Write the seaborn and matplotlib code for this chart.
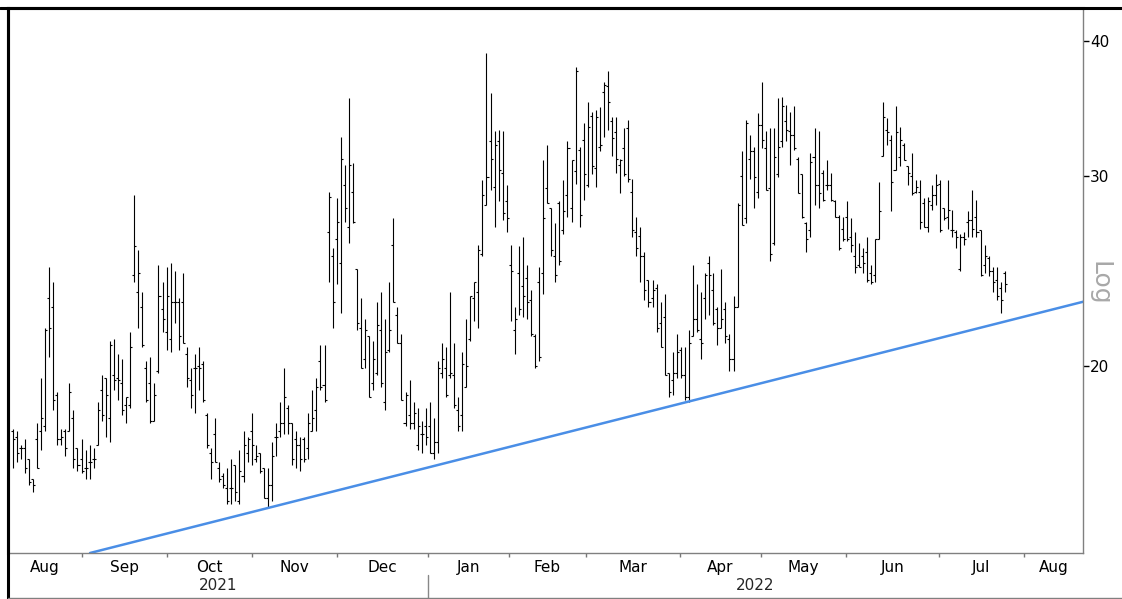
import numpy as np
import pandas as pd
import matplotlib

matplotlib.use("Agg")
import matplotlib.pyplot as plt
import matplotlib.transforms as mtransforms
from matplotlib.lines import Line2D
import seaborn as sns

# --- daily OHLC, one entry per trading day ---
highs = [
    17.5, 17.4, 16.9, 17.1, 16.4, 15.7, 17.7, 19.5, 21.7, 24.7,
    23.9, 18.9, 17.5, 17.5, 19.3, 18.2, 16.8, 17.1, 16.7, 16.9,
    16.8, 18.5, 19.6, 19.5, 21.1, 21.2, 20.5, 20.3, 18.7, 21.5,
    28.8, 25.6, 23.4, 20.2, 20.4, 19.3, 24.8, 23.9, 24.7, 24.9,
    24.5, 23.1, 24.4, 20.8, 19.9, 20.5, 20.8, 20.2, 18.1, 16.8,
    17.9, 16.3, 15.9, 16.1, 16.4, 16.2, 16.7, 17.4, 17.2, 18.1,
    16.9, 16.6, 16.1, 16.1, 17.0, 17.7, 18.5, 19.9, 18.4, 17.7,
    17.4, 17.2, 17.2, 18.1, 19.0, 19.5, 20.9, 20.9, 29.0, 25.7,
    28.6, 32.6, 30.7, 35.4, 30.8, 24.6, 23.1, 22.1, 21.3, 21.1,
    22.9, 23.4, 22.1, 23.9, 27.4, 22.7, 21.4, 18.9, 19.4, 18.5,
    18.3, 17.8, 18.3, 18.5, 17.9, 20.2, 21.0, 20.8, 23.4, 21.0,
    18.7, 20.6, 22.1, 23.2, 23.9, 25.9, 29.7, 39.0, 35.8, 33.0,
    33.1, 33.0, 29.4, 25.9, 22.7, 25.8, 26.3, 24.8, 23.5, 21.4,
    24.7, 31.0, 32.0, 28.0, 27.1, 28.4, 29.7, 32.3, 31.0, 37.8,
    31.9, 33.6, 35.1, 34.4, 34.5, 34.7, 36.6, 37.5, 34.0, 34.0,
    31.1, 33.2, 33.8, 29.8, 27.5, 26.9, 25.5, 24.0, 24.0, 23.8,
    22.9, 23.3, 19.7, 20.6, 21.4, 20.8, 20.8, 21.6, 24.8, 23.8,
    23.4, 24.4, 25.3, 24.4, 22.7, 24.6, 22.9, 21.4, 23.2, 28.3,
    31.6, 33.8, 32.7, 31.9, 34.3, 36.6, 33.0, 33.2, 33.2, 35.4,
    35.5, 34.9, 34.4, 34.8, 31.2, 30.1, 27.2, 31.5, 33.2, 33.0,
    30.4, 31.0, 30.2, 28.5, 27.6, 27.5, 28.4, 27.4, 26.6, 26.0,
    25.7, 26.3, 24.8, 26.2, 29.6, 35.1, 33.9, 32.7, 34.8, 33.3,
    32.2, 30.6, 31.5, 29.7, 29.7, 28.6, 28.7, 29.4, 30.1, 29.7,
    28.0, 29.7, 27.9, 26.7, 26.5, 26.6, 27.8, 29.1, 28.5, 26.7,
    25.9, 25.3, 24.7, 24.7, 23.9, 24.5,
]
lows = [
    16.1, 16.3, 16.4, 15.9, 15.5, 15.3, 16.1, 16.7, 17.4, 20.4,
    18.2, 16.9, 16.9, 16.5, 17.4, 16.1, 16.0, 15.9, 15.7, 15.7,
    16.1, 16.9, 17.8, 17.2, 17.0, 19.0, 18.6, 18.0, 17.7, 18.3,
    23.9, 21.7, 20.8, 18.5, 17.7, 17.8, 19.7, 21.5, 20.7, 20.6,
    21.9, 20.7, 21.0, 19.1, 18.3, 18.1, 19.0, 18.5, 16.8, 15.7,
    16.3, 15.6, 15.4, 14.9, 14.9, 15.0, 14.9, 15.6, 16.3, 16.2,
    16.3, 15.9, 15.1, 14.8, 15.0, 16.5, 17.2, 17.3, 17.3, 16.2,
    16.1, 16.0, 16.3, 16.4, 17.4, 17.4, 19.0, 18.5, 23.9, 21.7,
    23.8, 22.4, 27.2, 26.0, 27.1, 21.6, 19.9, 19.9, 18.7, 19.0,
    19.6, 19.1, 18.2, 20.6, 22.9, 21.0, 18.6, 17.6, 17.5, 17.5,
    16.7, 16.6, 16.9, 16.6, 16.4, 16.6, 19.5, 18.7, 19.5, 18.3,
    17.4, 17.4, 19.1, 21.1, 22.0, 21.7, 25.3, 28.2, 29.1, 26.9,
    28.4, 27.3, 26.6, 22.0, 20.5, 22.3, 22.2, 22.1, 21.3, 19.9,
    20.2, 23.3, 28.3, 25.3, 23.9, 24.8, 26.5, 27.5, 27.2, 29.5,
    26.9, 28.5, 29.3, 30.1, 29.3, 31.6, 32.6, 33.1, 31.3, 30.2,
    28.9, 30.0, 29.6, 26.3, 25.3, 23.9, 23.0, 22.7, 22.7, 21.5,
    20.8, 19.6, 18.7, 18.8, 19.5, 19.5, 18.6, 18.5, 21.3, 21.5,
    20.3, 22.1, 22.3, 21.8, 20.9, 21.7, 21.0, 19.8, 19.8, 22.7,
    27.0, 27.1, 29.8, 28.0, 28.6, 31.8, 29.1, 25.0, 25.9, 29.9,
    31.9, 32.3, 30.7, 31.7, 28.9, 27.4, 25.5, 26.3, 28.2, 28.0,
    28.4, 29.1, 28.4, 27.5, 25.6, 26.1, 26.1, 25.5, 24.4, 24.7,
    24.4, 23.9, 23.8, 23.9, 26.2, 31.3, 32.0, 27.8, 30.4, 30.6,
    31.0, 29.4, 28.8, 28.9, 26.8, 26.9, 26.6, 27.9, 28.2, 26.6,
    27.3, 26.8, 26.3, 25.7, 24.5, 25.9, 26.3, 26.3, 26.3, 24.2,
    24.4, 24.2, 23.4, 23.0, 22.4, 23.4,
]
opens = [
    17.4, 17.2, 16.8, 16.8, 16.4, 15.7, 17.1, 17.4, 17.6, 23.1,
    22.7, 18.8, 17.1, 17.4, 17.4, 17.9, 16.8, 16.4, 16.1, 16.3,
    16.4, 16.9, 19.0, 19.5, 17.9, 19.6, 19.5, 19.3, 18.4, 18.4,
    24.3, 23.4, 22.7, 19.9, 19.3, 17.8, 19.8, 22.6, 21.5, 21.2,
    22.9, 22.9, 22.9, 20.5, 19.4, 19.9, 20.0, 20.1, 18.0, 16.6,
    17.3, 16.1, 15.8, 15.4, 15.4, 16.2, 15.0, 15.8, 16.6, 17.4,
    16.4, 16.6, 16.1, 15.1, 15.5, 17.2, 17.4, 17.7, 18.3, 17.7,
    17.1, 16.9, 17.1, 16.8, 17.4, 18.2, 20.2, 19.2, 26.6, 25.3,
    26.2, 24.9, 29.4, 26.9, 29.0, 24.6, 21.7, 20.3, 21.3, 19.3,
    19.7, 21.6, 18.5, 20.7, 25.9, 22.3, 21.0, 17.7, 18.0, 17.7,
    16.9, 17.3, 17.6, 17.6, 16.6, 17.0, 19.7, 19.9, 19.6, 19.6,
    18.2, 18.0, 19.1, 21.2, 23.1, 23.4, 25.4, 28.2, 32.3, 29.3,
    32.3, 30.2, 28.4, 24.8, 21.6, 24.4, 23.7, 24.1, 23.0, 21.3,
    23.9, 24.4, 29.2, 28.0, 25.3, 28.3, 26.7, 28.8, 28.0, 30.3,
    31.7, 32.4, 29.4, 34.1, 30.5, 31.9, 35.9, 36.3, 33.7, 32.9,
    30.7, 31.8, 33.2, 29.0, 26.6, 26.4, 25.3, 24.0, 23.1, 23.6,
    21.9, 22.2, 19.7, 19.4, 19.7, 20.7, 19.6, 18.7, 21.3, 22.1,
    21.2, 23.1, 24.9, 23.5, 22.6, 21.7, 22.6, 21.2, 20.3, 22.7,
    30.0, 27.4, 31.1, 31.6, 29.0, 33.4, 31.8, 29.2, 26.0, 30.1,
    32.3, 33.7, 33.0, 32.7, 31.1, 30.1, 27.1, 26.7, 31.2, 29.4,
    30.2, 29.4, 29.4, 28.4, 27.5, 26.8, 27.5, 26.3, 25.3, 24.8,
    25.3, 25.5, 24.4, 24.3, 26.2, 31.3, 33.1, 32.4, 30.4, 31.2,
    32.0, 30.6, 30.0, 29.0, 29.0, 28.3, 26.9, 28.2, 28.8, 29.5,
    28.0, 27.5, 26.7, 26.6, 24.6, 26.3, 27.2, 27.3, 27.5, 26.7,
    24.8, 25.2, 24.5, 24.0, 23.6, 24.4,
]
closes = [
    17.1, 16.6, 16.8, 16.1, 15.6, 15.5, 16.1, 17.9, 21.6, 21.7,
    18.6, 17.1, 17.2, 16.8, 18.9, 16.4, 16.2, 16.0, 16.1, 16.3,
    16.4, 18.2, 18.0, 18.8, 20.9, 19.4, 19.4, 18.2, 18.7, 20.8,
    25.8, 24.4, 20.9, 18.6, 17.8, 18.8, 23.2, 22.1, 23.2, 22.9,
    22.9, 21.3, 21.0, 19.5, 18.8, 19.9, 19.9, 18.6, 16.9, 16.3,
    16.3, 15.7, 15.5, 15.0, 15.4, 15.3, 16.0, 16.9, 17.1, 16.9,
    16.5, 16.0, 15.1, 15.5, 16.5, 17.2, 17.7, 18.7, 17.7, 16.4,
    16.9, 16.4, 16.4, 17.7, 17.9, 19.1, 19.1, 18.6, 28.7, 22.9,
    27.2, 31.1, 28.0, 30.7, 27.2, 21.9, 19.9, 21.6, 18.7, 20.3,
    21.8, 19.3, 20.6, 21.6, 22.9, 21.0, 18.6, 18.8, 17.7, 18.1,
    17.6, 17.3, 17.2, 16.6, 17.0, 19.9, 20.3, 18.8, 19.7, 18.4,
    17.6, 20.1, 20.0, 23.2, 23.9, 25.6, 28.8, 29.9, 31.1, 32.0,
    30.4, 27.7, 27.4, 24.5, 22.1, 22.6, 23.2, 22.9, 21.4, 20.0,
    20.4, 27.4, 28.3, 25.6, 24.3, 25.0, 27.8, 31.8, 31.0, 37.5,
    27.6, 30.1, 33.3, 30.6, 34.0, 32.0, 36.4, 35.1, 32.5, 31.1,
    31.0, 30.1, 29.8, 26.7, 25.7, 25.3, 23.5, 22.9, 23.5, 21.7,
    20.8, 19.6, 18.9, 19.7, 20.6, 19.6, 18.7, 21.0, 22.1, 21.6,
    21.0, 24.3, 24.3, 21.9, 21.7, 22.1, 21.3, 20.3, 22.7, 28.2,
    27.0, 33.6, 31.6, 29.9, 33.4, 32.4, 29.1, 25.4, 31.2, 31.9,
    34.8, 33.1, 32.7, 31.8, 28.9, 27.5, 26.2, 30.9, 29.4, 28.9,
    28.5, 29.4, 28.5, 27.5, 25.7, 26.2, 26.2, 25.9, 24.7, 24.7,
    24.9, 24.0, 23.9, 26.2, 27.8, 34.0, 32.9, 29.6, 32.9, 32.4,
    31.0, 30.2, 28.9, 29.3, 27.2, 26.9, 28.4, 28.8, 29.4, 26.7,
    27.4, 27.9, 26.7, 26.3, 26.3, 26.2, 27.3, 26.8, 26.6, 24.3,
    25.3, 24.5, 23.9, 23.2, 23.0, 23.8,
]

month_labels = ["Aug", "Sep", "Oct", "Nov", "Dec", "Jan", "Feb",
                "Mar", "Apr", "May", "Jun", "Jul", "Aug"]
year_labels = ["2021", "2022"]
y_ticks = [20, 30, 40]
# support line: where it leaves the bottom edge and where it meets the right edge
trend_bars = [19.1, 264.3]
trend_values = [13.42, 22.93]

# month boundaries in bar units (trading-day axis)
month_bounds = [17.1, 38.1, 59.1, 80.1, 102.5, 122.5, 141.6,
                164.8, 184.8, 205.8, 228.7, 249.7]
x_min, x_max = -1.16, 264.3
y_min, y_max = 13.42, 42.9

df = pd.DataFrame({"high": highs, "low": lows, "open": opens, "close": closes})
df["bar"] = np.arange(len(df))

sns.set_theme(style="white")
plt.rcParams["font.family"] = ["DejaVu Sans"]

fig = plt.figure(figsize=(11.22, 5.99), dpi=100)
ax = fig.add_axes([8 / 1122, 46 / 599, 1075 / 1122, 545 / 599])

# --- OHLC bars ---
bar_kw = dict(color="black", linewidth=0.8)
ax.vlines(df["bar"], df["low"], df["high"], **bar_kw)
ax.hlines(df["open"], df["bar"] - 0.5, df["bar"], **bar_kw)
ax.hlines(df["close"], df["bar"], df["bar"] + 0.5, **bar_kw)

# --- support line, straight on the log scale ---
trend = pd.DataFrame({"bar": trend_bars, "value": trend_values})
sns.lineplot(data=trend, x="bar", y="value", ax=ax, color="#4a8ee6",
             linewidth=1.8)

ax.set_yscale("log")
ax.set_xlim(x_min, x_max)
ax.set_ylim(y_min, y_max)
ax.set_xlabel("")
ax.set_ylabel("")

# y axis on the right
ax.yaxis.tick_right()
ax.set_yticks(y_ticks)
ax.set_yticklabels([str(t) for t in y_ticks])
ax.yaxis.set_minor_locator(matplotlib.ticker.NullLocator())
ax.tick_params(axis="y", which="major", length=4, width=1, color="black",
               labelsize=11, pad=1, labelcolor="black")

# x axis: ticks at month boundaries, labels centred in each month
edges = [x_min] + month_bounds + [x_max]
centres = [(a + b) / 2 for a, b in zip(edges[:-1], edges[1:])]
ax.set_xticks(month_bounds)
ax.set_xticklabels([""] * len(month_bounds))
ax.set_xticks(centres, minor=True)
ax.set_xticklabels(month_labels, minor=True)
ax.tick_params(axis="x", which="major", length=3, width=1, color="#777777",
               direction="out", bottom=True)
ax.tick_params(axis="x", which="minor", length=0, labelsize=11, pad=5,
               labelcolor="black", bottom=True)

# year row
trans = mtransforms.blended_transform_factory(ax.transData, ax.transAxes)
year_split = month_bounds[4]
ax.text((x_min + year_split) / 2, -0.060, year_labels[0], transform=trans,
        ha="center", va="center", fontsize=11)
ax.text((year_split + x_max) / 2, -0.060, year_labels[1], transform=trans,
        ha="center", va="center", fontsize=11)
ax.add_line(Line2D([year_split, year_split], [-0.040, -0.082], transform=trans,
                   color="#888888", linewidth=1, clip_on=False))

# spines
for side in ["right", "bottom"]:
    ax.spines[side].set_color("#808080")
    ax.spines[side].set_linewidth(1)
ax.spines["top"].set_color("black")
ax.spines["top"].set_linewidth(2.2)
ax.spines["left"].set_color("black")
ax.spines["left"].set_linewidth(2.2)

# outer frame
fig.add_artist(Line2D([0, 1], [1 - 8 / 599, 1 - 8 / 599], transform=fig.transFigure,
                      color="black", linewidth=2.2))
fig.add_artist(Line2D([8 / 1122, 8 / 1122], [0, 1 - 8 / 599], transform=fig.transFigure,
                      color="black", linewidth=2.2))
fig.add_artist(Line2D([8 / 1122, 1], [1.5 / 599, 1.5 / 599], transform=fig.transFigure,
                      color="#808080", linewidth=1))

fig.text(1100 / 1122, 1 - 283 / 599, "Log", rotation=270, color="#a8a8a8",
         fontsize=18, ha="center", va="center")

fig.savefig("out.png", dpi=100, facecolor="white")
plt.close(fig)
